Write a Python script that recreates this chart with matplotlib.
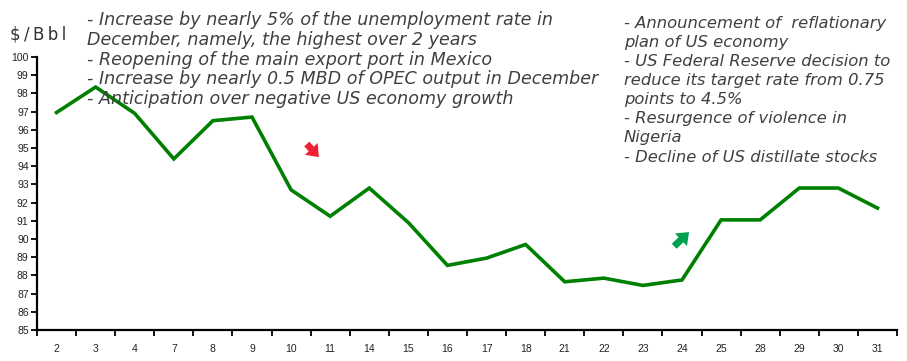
import matplotlib

matplotlib.use("Agg")
import matplotlib.pyplot as plt
import numpy as np

DAYS = ["2", "3", "4", "7", "8", "9", "10", "11", "14", "15", "16",
        "17", "18", "21", "22", "23", "24", "25", "28", "29", "30", "31"]
PRICES = [96.95, 98.35, 96.9, 94.4, 96.5, 96.7, 92.7, 91.25, 92.8, 90.9,
          88.55, 88.95, 89.7, 87.65, 87.85, 87.45, 87.75, 91.05, 91.05,
          92.8, 92.8, 91.7]
Y_TICKS = list(range(85, 101))

LEFT_NOTES = (
    "- Increase by nearly 5% of the unemployment rate in\n"
    "December, namely, the highest over 2 years\n"
    "- Reopening of the main export port in Mexico\n"
    "- Increase by nearly 0.5 MBD of OPEC output in December\n"
    "- Anticipation over negative US economy growth"
)
RIGHT_NOTES = (
    "- Announcement of  reflationary\n"
    "plan of US economy\n"
    "- US Federal Reserve decision to\n"
    "reduce its target rate from 0.75\n"
    "points to 4.5%\n"
    "- Resurgence of violence in\n"
    "Nigeria\n"
    "- Decline of US distillate stocks"
)

W, H = 907, 361
fig = plt.figure(figsize=(W / 100, H / 100), dpi=100)
ax = fig.add_axes([37 / W, 31 / H, 860 / W, 273 / H])

x = np.arange(len(DAYS))
ax.plot(x, PRICES, color="#008000", lw=2.6, solid_joinstyle="miter", zorder=3)

ax.set_xlim(-0.5, len(DAYS) - 0.5)
ax.set_ylim(85, 100)
ax.set_yticks(Y_TICKS)
ax.set_yticklabels([str(v) for v in Y_TICKS], fontsize=7.5,
                   family="Liberation Sans", color="#222222")
# category boundaries carry the tick marks, labels sit in the middle
ax.set_xticks(np.arange(-0.5, len(DAYS), 1.0))
ax.set_xticklabels([])
ax.set_xticks(x, minor=True)
ax.set_xticklabels(DAYS, minor=True, fontsize=7.5,
                   family="Liberation Sans", color="#222222")
ax.tick_params(axis="x", which="major", direction="out", length=4, width=1.3)
ax.tick_params(axis="x", which="minor", length=0, pad=10)
ax.tick_params(axis="y", direction="out", length=4, width=1.3, pad=2)

for side in ("top", "right"):
    ax.spines[side].set_visible(False)
for side in ("left", "bottom"):
    ax.spines[side].set_linewidth(1.6)

fig.text(10 / W, 1 - 35 / H, "$\u2009/\u2009B\u2009b\u2009l", fontsize=12,
         color="#333333", va="center", ha="left", family="DejaVu Sans")
fig.text(87 / W, 1 - 11 / H, LEFT_NOTES, fontsize=12.6, style="italic",
         color="#404040", va="top", ha="left", linespacing=1.13,
         family="DejaVu Sans")
fig.text(624 / W, 1 - 16 / H, RIGHT_NOTES, fontsize=11.8, style="italic",
         color="#404040", va="top", ha="left", linespacing=1.34,
         family="DejaVu Sans")

arrow = "simple,head_width=1.25,head_length=0.8,tail_width=0.5"
ax.annotate("", xy=(6.71, 94.5), xytext=(6.4, 95.22),
            arrowprops=dict(arrowstyle=arrow, color="#ee2233", lw=0,
                            mutation_scale=10, shrinkA=0, shrinkB=0))
ax.annotate("", xy=(16.18, 90.38), xytext=(15.8, 89.6),
            arrowprops=dict(arrowstyle=arrow, color="#00a050", lw=0,
                            mutation_scale=10, shrinkA=0, shrinkB=0))

fig.savefig("out.png", dpi=100)
